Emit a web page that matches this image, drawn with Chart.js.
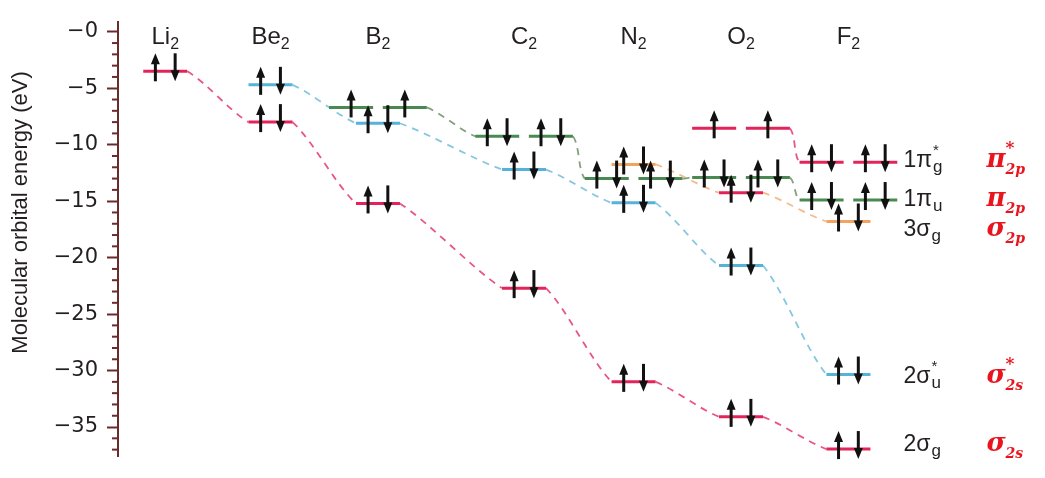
<!DOCTYPE html>
<html>
<head>
<meta charset="utf-8">
<script src="https://cdn.jsdelivr.net/npm/chart.js@4.4.0/dist/chart.umd.min.js"></script>
<style>
  html, body { margin: 0; padding: 0; background: #fff; }
</style>
</head>
<body>
<canvas id="moChart" width="1045" height="478"></canvas>
<script>
// homonuclear diatomics, left to right
const molecules = ['Li', 'Be', 'B', 'C', 'N', 'O', 'F'];

// orbital energies (eV) per molecule, null where the level is not drawn
const sigma2s     = [-3.5, -8.0, -15.2, -22.7, -31.0, -34.1, -36.95];
const sigma2sStar = [null, -4.7, -8.1, -12.2, -15.15, -20.7, -30.35];
const pi2p        = [null, null, -6.7, -9.25, -13.0, -12.9, -14.9];
const sigma2p     = [null, null, null, null, -11.75, -14.25, -16.8];
const pi2pStar    = [null, null, null, null, null, -8.55, -11.55];

// electrons in each level (pi levels: per each of the two degenerate levels)
const elSigma2s     = [2, 2, 2, 2, 2, 2, 2];
const elSigma2sStar = [0, 2, 2, 2, 2, 2, 2];
const elPi2p        = [0, 0, 1, 2, 2, 2, 2];
const elSigma2p     = [0, 0, 0, 0, 2, 2, 2];
const elPi2pStar    = [0, 0, 0, 0, 0, 1, 2];

// y axis
const yTicks = [0, -5, -10, -15, -20, -25, -30, -35];

// term symbols on the right: number, greek, superscript, subscript, baseline energy
const termLabels = [
  ['1', 'π', '*', 'g', -12.0],
  ['1', 'π', '',  'u', -15.4],
  ['3', 'σ', '',  'g', -18.1],
  ['2', 'σ', '*', 'u', -31.1],
  ['2', 'σ', '',  'g', -37.1]
];
// hand-written notes beside them: greek, superscript, subscript
const noteLabels = [
  ['π', '*', '2p'],
  ['π', '',  '2p'],
  ['σ', '',  '2p'],
  ['σ', '*', '2s'],
  ['σ', '',  '2s']
];

// layout (axis units)
const colPos = [0, 0.98, 1.98, 3.34, 4.36, 5.36, 6.36];
const halfW = 0.205;   // half length of a level
const pairOff = 0.25;  // offset of degenerate pair
const eOff = 0.092;    // electron offset from level centre
const lead = 0.22;

const RED = '#e2245a', RED_D = '#e8558c';
const BLUE = '#55b2d8', BLUE_D = '#86c7e0';
const GREEN = '#4a8a52', GREEN_D = '#86a07e';
const ORANGE = '#f3a35f', ORANGE_D = '#f5bb8a';
const AXIS = '#6b2a2c';
const TEXT = '#231f20';
const FONT = '"Liberation Sans", Arial, sans-serif';

const series = [
  { energy: sigma2s,     el: elSigma2s,     pair: false, color: () => RED,  link: RED_D },
  { energy: sigma2sStar, el: elSigma2sStar, pair: false, color: () => BLUE, link: BLUE_D },
  { energy: pi2p,        el: elPi2p,        pair: true,  color: () => GREEN, link: GREEN_D },
  { energy: sigma2p,     el: elSigma2p,     pair: false, color: i => (i === 5 ? RED : ORANGE), link: ORANGE_D },
  { energy: pi2pStar,    el: elPi2pStar,    pair: true,  color: () => RED,  link: RED_D }
];

const levelSets = [];
const linkSets = [];
const electrons = [];

series.forEach(s => {
  const ext = s.pair ? pairOff + halfW : halfW;
  s.energy.forEach((e, i) => {
    if (e === null) return;
    const centres = s.pair ? [colPos[i] - pairOff, colPos[i] + pairOff] : [colPos[i]];
    centres.forEach(c => {
      levelSets.push({
        data: [{ x: c - halfW, y: e }, { x: c + halfW, y: e }],
        borderColor: s.color(i),
        borderWidth: 3,
        order: 1
      });
      if (s.el[i] === 1) electrons.push({ x: c, y: e, up: true });
      if (s.el[i] === 2) {
        electrons.push({ x: c - eOff, y: e, up: true });
        electrons.push({ x: c + eOff, y: e, up: false });
      }
    });
    // dashed link to the same orbital in the next molecule
    const next = s.energy[i + 1];
    if (next === undefined || next === null) return;
    const x0 = colPos[i] + ext, x1 = colPos[i + 1] - ext;
    linkSets.push({
      data: [{ x: x0 - lead, y: e }, { x: x0, y: e }, { x: x1, y: next }, { x: x1 + lead, y: next }],
      borderColor: s.link,
      borderWidth: 1.8,
      borderDash: [7, 6],
      tension: 0.3,
      segment: { borderColor: ctx => (ctx.p0DataIndex === 1 ? s.link : 'rgba(0,0,0,0)') },
      order: 2
    });
  });
});

// text with sub/superscripts drawn left to right from x
function richText(ctx, x, y, parts) {
  parts.forEach(p => {
    if (!p.t) return;
    ctx.font = p.font;
    ctx.fillText(p.t, x + (p.dx || 0), y + (p.dy || 0));
    if (!p.noAdvance) x += ctx.measureText(p.t).width + (p.dx || 0);
  });
  return x;
}

const decor = {
  id: 'decor',
  afterDatasetsDraw(chart) {
    const { ctx, chartArea, scales: { x: xs, y: ys } } = chart;
    ctx.save();

    // minor ticks every 1 eV
    ctx.strokeStyle = AXIS;
    ctx.lineWidth = 2;
    for (let v = 0; v >= -37; v--) {
      if (v % 5 === 0) continue;
      const py = ys.getPixelForValue(v);
      ctx.beginPath();
      ctx.moveTo(chartArea.left - 6, py);
      ctx.lineTo(chartArea.left + 1, py);
      ctx.stroke();
    }

    // electrons
    ctx.strokeStyle = '#111';
    ctx.fillStyle = '#111';
    electrons.forEach(el => {
      const px = xs.getPixelForValue(el.x), py = ys.getPixelForValue(el.y);
      const top = py - 18, bot = py + 10;
      ctx.lineWidth = 3;
      ctx.beginPath();
      if (el.up) { ctx.moveTo(px, bot); ctx.lineTo(px, top + 8); }
      else { ctx.moveTo(px, top); ctx.lineTo(px, bot - 8); }
      ctx.stroke();
      ctx.beginPath();
      if (el.up) { ctx.moveTo(px, top); ctx.lineTo(px - 4.5, top + 11); ctx.lineTo(px + 4.5, top + 11); }
      else { ctx.moveTo(px, bot); ctx.lineTo(px - 4.5, bot - 11); ctx.lineTo(px + 4.5, bot - 11); }
      ctx.closePath();
      ctx.fill();
    });

    // molecule names
    ctx.fillStyle = TEXT;
    ctx.textBaseline = 'alphabetic';
    ctx.textAlign = 'left';
    molecules.forEach((m, i) => {
      ctx.font = '24px ' + FONT;
      const w1 = ctx.measureText(m).width;
      ctx.font = '16px ' + FONT;
      const w2 = ctx.measureText('2').width;
      const x0 = xs.getPixelForValue(colPos[i]) - (w1 + w2) / 2;
      richText(ctx, x0, chartArea.top + 22, [
        { t: m, font: '24px ' + FONT },
        { t: '2', font: '16px ' + FONT, dy: 5 }
      ]);
    });

    // term symbols and notes
    const lx = xs.getPixelForValue(colPos[6]) + 55;
    termLabels.forEach((lab, k) => {
      const py = ys.getPixelForValue(lab[4]);
      ctx.fillStyle = TEXT;
      const x1 = richText(ctx, lx, py, [
        { t: lab[0] + lab[1], font: '23px ' + FONT }
      ]);
      richText(ctx, x1 + 1, py, [
        { t: lab[2], font: '15px ' + FONT, dy: -12, noAdvance: true },
        { t: lab[3], font: '17px ' + FONT, dy: 5 }
      ]);
      const n = noteLabels[k];
      ctx.fillStyle = '#e8141e';
      const nx = xs.getPixelForValue(colPos[6]) + 138;
      const x2 = richText(ctx, nx, py, [
        { t: n[0], font: 'italic bold 26px "DejaVu Serif", serif' }
      ]);
      richText(ctx, x2, py, [
        { t: n[1], font: 'bold 17px "DejaVu Serif", serif', dy: -14, noAdvance: true },
        { t: n[2], font: 'italic bold 14px "DejaVu Serif", serif', dy: 7 }
      ]);
    });

    // axis title
    ctx.fillStyle = TEXT;
    ctx.font = '22px ' + FONT;
    ctx.textAlign = 'center';
    ctx.textBaseline = 'middle';
    ctx.translate(21, ys.getPixelForValue(-16.0));
    ctx.rotate(-Math.PI / 2);
    ctx.fillText('Molecular orbital energy (eV)', 0, 0);
    ctx.restore();
  }
};

new Chart(document.getElementById('moChart'), {
  type: 'scatter',
  data: { datasets: [...levelSets, ...linkSets] },
  options: {
    responsive: false,
    animation: false,
    devicePixelRatio: 1,
    layout: { padding: { top: 10, bottom: 7, right: 0, left: 0 } },
    elements: { point: { radius: 0, hoverRadius: 0 }, line: { fill: false } },
    datasets: { scatter: { showLine: true, pointRadius: 0 } },
    plugins: { legend: { display: false }, tooltip: { enabled: false } },
    scales: {
      x: { type: 'linear', min: -0.44, max: 8.19, display: false },
      y: {
        min: -37.6,
        max: 0.9,
        afterBuildTicks: s => { s.ticks = yTicks.map(v => ({ value: v })); },
        afterFit: s => { s.width = 118; },
        border: { color: AXIS, width: 2 },
        grid: { drawOnChartArea: false, color: AXIS, tickLength: 11, tickWidth: 2 },
        ticks: {
          color: TEXT,
          padding: 9,
          font: { size: 21, family: '"DejaVu Sans", sans-serif' },
          callback: v => '\u2212' + Math.abs(v)
        }
      }
    }
  },
  plugins: [decor]
});
</script>
</body>
</html>
